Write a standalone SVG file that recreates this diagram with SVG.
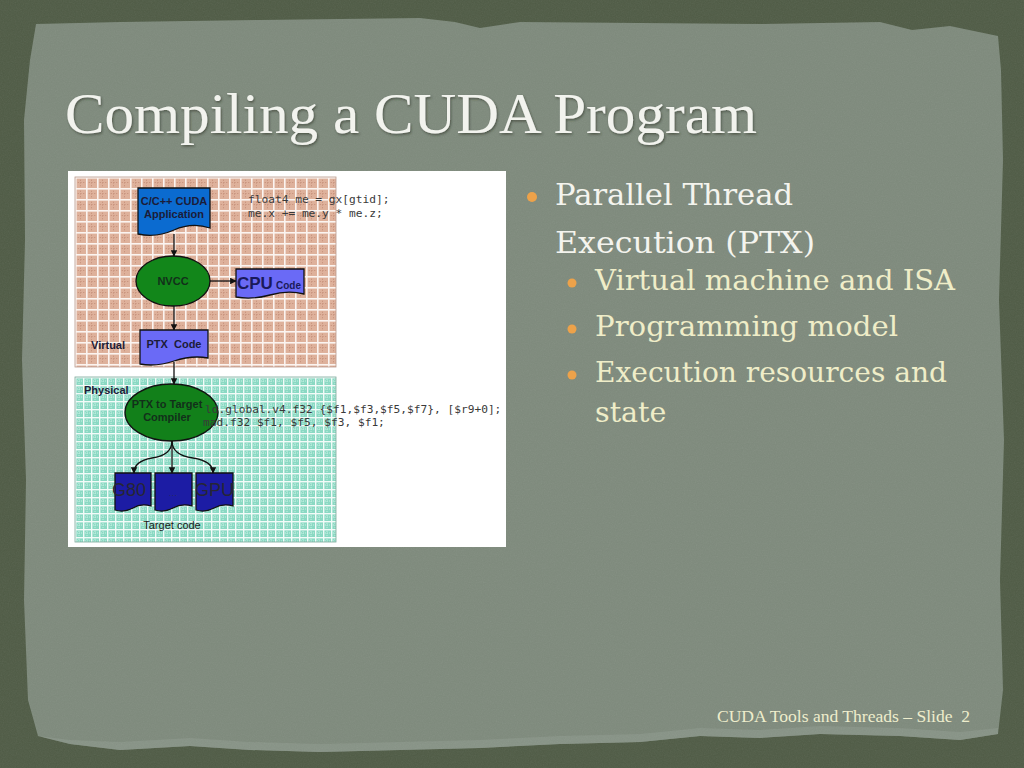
<svg xmlns="http://www.w3.org/2000/svg" width="1024" height="768" viewBox="0 0 1024 768">
<style>
.title{font-family:"Liberation Serif","DejaVu Serif",serif;font-size:58px;fill:#f2f3ee}
.l1{font-family:"DejaVu Serif","Liberation Serif",serif;font-size:30px;fill:#f4f4ee}
.l2{font-family:"DejaVu Serif","Liberation Serif",serif;font-size:28.5px;fill:#efedc8}
.foot{font-family:"Liberation Serif","DejaVu Serif",serif;font-size:16px;fill:#eeedcc}
.lbl{font-family:"Liberation Sans",Arial,sans-serif;font-weight:bold;font-size:11px;fill:#1c1c38}
.code{font-family:"DejaVu Sans Mono","Liberation Mono",monospace;font-size:11.2px;fill:#3a3a3a}
.shape{stroke:#111;stroke-width:1.3}
.conn{stroke:#111;stroke-width:1.3;fill:none}
.big{font-family:"Liberation Sans",Arial,sans-serif;font-size:18px;fill:#262634}
</style>
<defs>
<filter id="grain" x="0" y="0" width="100%" height="100%">
<feTurbulence type="fractalNoise" baseFrequency="0.85" numOctaves="2" seed="4"/>
<feColorMatrix type="saturate" values="0"/>
</filter>
<filter id="shadow" x="-5%" y="-20%" width="110%" height="140%">
<feDropShadow dx="1" dy="1.5" stdDeviation="1" flood-color="#2c3328" flood-opacity="0.6"/>
</filter>
<pattern id="pink" width="11" height="11" patternUnits="userSpaceOnUse" x="75" y="177">
<rect width="11" height="11" fill="#deb19b"/>
<line x1="0" y1="5.5" x2="11" y2="5.5" stroke="#c48d77" stroke-width="1" stroke-dasharray="1 1.75"/>
<line x1="5.5" y1="0" x2="5.5" y2="11" stroke="#c48d77" stroke-width="1" stroke-dasharray="1 1.75"/>
<rect width="11" height="1.6" fill="#fbf4f0"/>
<rect width="1.6" height="11" fill="#fbf4f0"/>
</pattern>
<pattern id="teal" width="8" height="8" patternUnits="userSpaceOnUse" x="75" y="377">
<rect width="8" height="8" fill="#8ad9c3"/>
<line x1="0" y1="4" x2="8" y2="4" stroke="#c8f0e4" stroke-width="1" stroke-dasharray="1 1"/>
<line x1="4" y1="0" x2="4" y2="8" stroke="#c8f0e4" stroke-width="1" stroke-dasharray="1 1"/>
<rect width="8" height="1.4" fill="#f2fbf8"/>
<rect width="1.4" height="8" fill="#f2fbf8"/>
</pattern>
<marker id="ah" viewBox="0 0 10 10" refX="9" refY="5" markerWidth="5" markerHeight="5" orient="auto">
<path d="M0,0 L10,5 L0,10 Z" fill="#111"/>
</marker>
</defs>

<g id="background">
<rect width="1024" height="768" fill="#4f5b45"/>
<path d="M36,24 L120,22 L260,20 L420,18 L455,22 L480,28 L520,22 L640,23 L760,24 L880,22 L912,30 L950,26 L998,36 L1001,70 L1003,160 L999,300 L1004,440 L1000,580 L1003,690 L998,734 L960,740 L900,736 L820,734 L760,738 L700,736 L640,742 L560,744 L480,748 L400,750 L320,752 L250,750 L190,746 L120,750 L70,744 L38,736 L28,700 L24,600 L26,480 L22,360 L25,240 L24,120 L30,60 Z" fill="#7e8a7c"/>
<path d="M38,736 L70,740 L120,742 L190,738 L250,742 L320,744 L400,742 L480,740 L560,736 L640,734 L700,728 L760,730 L820,726 L900,728 L960,732 L998,728 L998,734 L960,740 L900,736 L820,734 L760,738 L700,736 L640,742 L560,744 L480,748 L400,750 L320,752 L250,750 L190,746 L120,750 L70,744 Z" fill="#8a9588" opacity="0.8"/>
<rect width="1024" height="768" filter="url(#grain)" opacity="0.09"/>
</g>

<text id="title" class="title" x="65" y="133" textLength="692" lengthAdjust="spacingAndGlyphs" filter="url(#shadow)">Compiling a CUDA Program</text>

<g id="bullets">
<circle cx="532" cy="197" r="5" fill="#eda24a"/>
<text class="l1" x="555" y="205" textLength="238" lengthAdjust="spacingAndGlyphs">Parallel Thread</text>
<text class="l1" x="555" y="253" textLength="260" lengthAdjust="spacingAndGlyphs">Execution (PTX)</text>
<circle cx="572" cy="283" r="4.5" fill="#eda24a"/>
<text class="l2" x="595" y="290" textLength="360" lengthAdjust="spacingAndGlyphs">Virtual machine and ISA</text>
<circle cx="572" cy="329" r="4.5" fill="#eda24a"/>
<text class="l2" x="595" y="336" textLength="303" lengthAdjust="spacingAndGlyphs">Programming model</text>
<circle cx="572" cy="375" r="4.5" fill="#eda24a"/>
<text class="l2" x="595" y="382" textLength="352" lengthAdjust="spacingAndGlyphs">Execution resources and</text>
<text class="l2" x="595" y="422">state</text>
</g>

<text id="footer" class="foot" x="717" y="722" textLength="253" lengthAdjust="spacingAndGlyphs" xml:space="preserve">CUDA Tools and Threads – Slide  2</text>

<g id="figure">
<rect x="68" y="171" width="438" height="376" fill="#ffffff"/>
<rect id="virtual-region" x="75" y="177" width="261" height="190" fill="url(#pink)" stroke="#b89a8c" stroke-width="0.8"/>
<rect id="physical-region" x="75" y="377" width="261" height="165" fill="url(#teal)" stroke="#7aa89a" stroke-width="0.8"/>
<text class="lbl" x="91" y="349">Virtual</text>
<text class="lbl" x="84" y="394">Physical</text>
</g>

<g id="connectors">
<line class="conn" x1="174" y1="234" x2="174" y2="256" marker-end="url(#ah)"/>
<line class="conn" x1="210" y1="281" x2="236" y2="281" marker-end="url(#ah)"/>
<line class="conn" x1="174" y1="306" x2="174" y2="330" marker-end="url(#ah)"/>
<line class="conn" x1="174" y1="362" x2="174" y2="384" marker-end="url(#ah)"/>
<path class="conn" d="M172,441 Q172,455 152,458 Q134,461 134,473" marker-end="url(#ah)"/>
<line class="conn" x1="172" y1="441" x2="172" y2="473" marker-end="url(#ah)"/>
<path class="conn" d="M172,441 Q172,455 193,458 Q213,461 213,473" marker-end="url(#ah)"/>
</g>

<g id="node-app">
<path class="shape" d="M138,188 H210 V228 Q192,222 174,230 Q156,238 138,234 Z" fill="#0b6bd0"/>
<text class="lbl" x="174" y="205" text-anchor="middle">C/C++ CUDA</text>
<text class="lbl" x="174" y="218" text-anchor="middle">Application</text>
</g>

<g id="node-nvcc">
<ellipse class="shape" cx="173" cy="281" rx="37" ry="25" fill="#12861a"/>
<text class="lbl" x="173" y="285" text-anchor="middle" style="fill:#12301a">NVCC</text>
</g>

<g id="node-cpu">
<path class="shape" d="M236,269 H304 V294 Q288,290 270,295 Q252,300 236,297 Z" fill="#6a6af6"/>
<text x="237" y="289" font-family="Liberation Sans, Arial, sans-serif" font-weight="bold" font-size="17" fill="#1a1a5a">CPU</text>
<text x="276" y="289" font-family="Liberation Sans, Arial, sans-serif" font-weight="bold" font-size="10" fill="#1a1a5a">Code</text>
</g>

<g id="node-ptx">
<path class="shape" d="M140,330 H208 V358 Q192,355 174,361 Q156,367 140,364 Z" fill="#6a6af6"/>
<text class="lbl" x="174" y="348" text-anchor="middle" xml:space="preserve">PTX  Code</text>
</g>

<g id="node-compiler">
<ellipse class="shape" cx="171.5" cy="412.5" rx="46.5" ry="28.5" fill="#12801a"/>
<text class="lbl" x="167" y="408" text-anchor="middle" style="fill:#12301a">PTX to Target</text>
<text class="lbl" x="167" y="421" text-anchor="middle" style="fill:#12301a">Compiler</text>
</g>

<g id="node-g80">
<path class="shape" d="M115,473 H151 V506 Q141,503 133,508 Q124,513 115,510 Z" fill="#1c1ca4"/>
<text class="big" x="112" y="496">G80</text>
</g>
<g id="node-dots">
<path class="shape" d="M155,473 H192 V506 Q182,503 173,508 Q164,513 155,510 Z" fill="#1c1ca4"/>
<text x="173" y="496" text-anchor="middle" font-family="Liberation Sans, Arial, sans-serif" font-size="9" fill="#2a2a60">…</text>
</g>
<g id="node-gpu">
<path class="shape" d="M196,473 H233 V506 Q223,503 214,508 Q205,513 196,510 Z" fill="#1c1ca4"/>
<text class="big" x="195" y="496">GPU</text>
</g>
<text id="target-code" x="172" y="529" text-anchor="middle" font-family="Liberation Sans, Arial, sans-serif" font-size="11" fill="#1a1a1a">Target code</text>

<g id="code">
<text class="code" x="248" y="203">float4 me = gx[gtid];</text>
<text class="code" x="248" y="217">me.x += me.y * me.z;</text>
<text class="code" x="205" y="413">ld.global.v4.f32 {$f1,$f3,$f5,$f7}, [$r9+0];</text>
<text class="code" x="203" y="426">mad.f32 $f1, $f5, $f3, $f1;</text>
</g>
</svg>
